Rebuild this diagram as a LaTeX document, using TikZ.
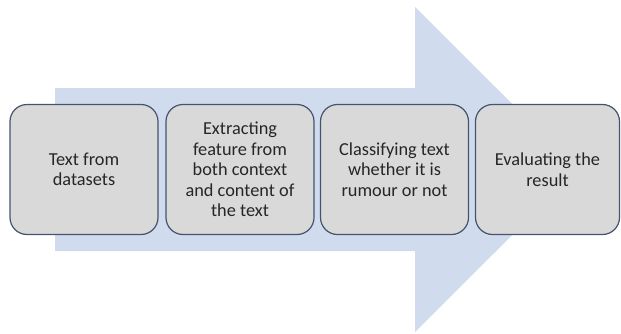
\documentclass[tikz,border=0pt]{standalone}
\usepackage{fontspec}
\setmainfont{Carlito}
\definecolor{arrowblue}{HTML}{D0DCEE}
\definecolor{boxfill}{HTML}{D9D9D9}
\definecolor{boxline}{HTML}{44546A}
\definecolor{txt}{HTML}{262626}
\begin{document}
\begin{tikzpicture}[x=1pt,y=1pt,
  stagebox/.style={draw=boxline, line width=1.2pt, fill=boxfill, rounded corners=17pt,
    minimum height=130pt, inner sep=2pt, align=center, text=txt,
    font=\fontsize{18.3}{20.5}\selectfont}]
\useasboundingbox (0,0) rectangle (621,333);
\fill[arrowblue] (55,245) -- (415,245) -- (415,326) -- (578,163.5) -- (415,1) -- (415,82) -- (55,82) -- cycle;
\node[stagebox, minimum width=148pt] (s1) at (84,163.5) {Text from\\datasets};
\node[stagebox, minimum width=148pt] (s2) at (240,163.5) {Extracting\\feature from\\both context\\and content of\\the text};
\node[stagebox, minimum width=148pt] (s3) at (394.5,163.5) {Classifying text\\whether it is\\rumour or not};
\node[stagebox, minimum width=144pt] (s4) at (547.5,163.5) {Evaluating the\\result};
\end{tikzpicture}
\end{document}
